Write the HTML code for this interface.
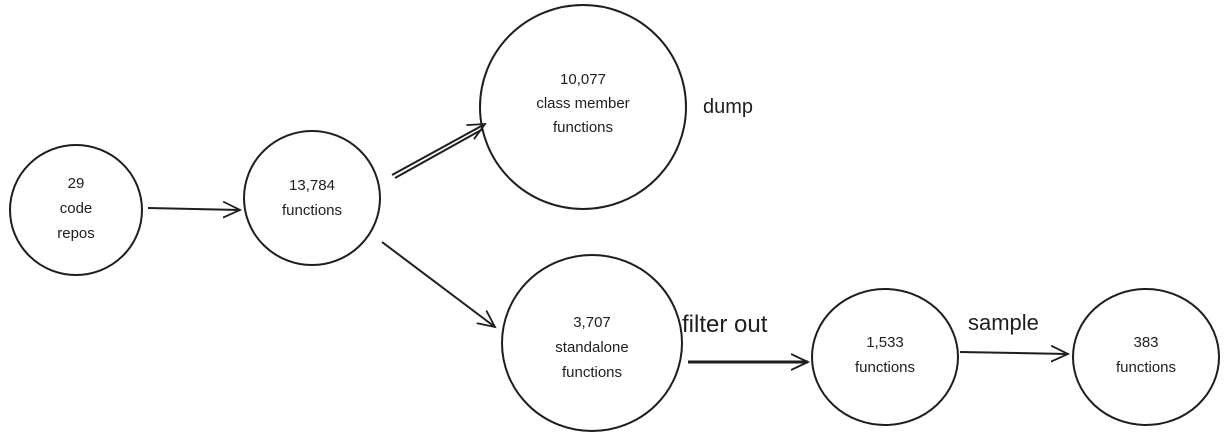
<!DOCTYPE html>
<html><head><style>
body{margin:0;background:#fff;}
svg text{font-family:"Liberation Sans",sans-serif;fill:#1e1e1e;}
</style></head><body>
<svg width="1226" height="434" viewBox="0 0 1226 434" xmlns="http://www.w3.org/2000/svg">
<defs><marker id="a" markerWidth="20" markerHeight="20" refX="17" refY="10" orient="auto" markerUnits="userSpaceOnUse">
<path d="M0,2 L17,10 L0,18" fill="none" stroke="#1e1e1e" stroke-width="1.8"/></marker></defs>
<g fill="none" stroke="#1e1e1e" stroke-width="2">
<ellipse cx="76" cy="210" rx="66" ry="65"/>
<ellipse cx="312" cy="198" rx="68" ry="67"/>
<ellipse cx="583" cy="107" rx="103" ry="102"/>
<ellipse cx="592" cy="343" rx="90" ry="88"/>
<ellipse cx="885" cy="357" rx="73" ry="68"/>
<ellipse cx="1146" cy="357" rx="73" ry="68"/>
<line x1="148" y1="208" x2="240" y2="210" marker-end="url(#a)"/>
<line x1="392" y1="175" x2="485" y2="124" marker-end="url(#a)"/>
<line x1="395" y1="178" x2="483" y2="129"/>
<line x1="382" y1="242" x2="495" y2="327" marker-end="url(#a)"/>
<line x1="688" y1="362" x2="808" y2="362" stroke-width="3" marker-end="url(#a)"/>
<line x1="960" y1="352" x2="1068" y2="354" marker-end="url(#a)"/>
</g>
<g font-size="15" text-anchor="middle">
<text x="76" y="188">29</text><text x="76" y="213">code</text><text x="76" y="238">repos</text>
<text x="312" y="190">13,784</text><text x="312" y="215">functions</text>
<text x="583" y="84">10,077</text><text x="583" y="108">class member</text><text x="583" y="132">functions</text>
<text x="592" y="327">3,707</text><text x="592" y="352">standalone</text><text x="592" y="377">functions</text>
<text x="885" y="347">1,533</text><text x="885" y="372">functions</text>
<text x="1146" y="372">functions</text><text x="1146" y="347">383</text>
</g>
<text x="703" y="113" font-size="20">dump</text>
<text x="682" y="332" font-size="24">filter out</text>
<text x="968" y="330" font-size="22">sample</text>
</svg>
</body></html>
